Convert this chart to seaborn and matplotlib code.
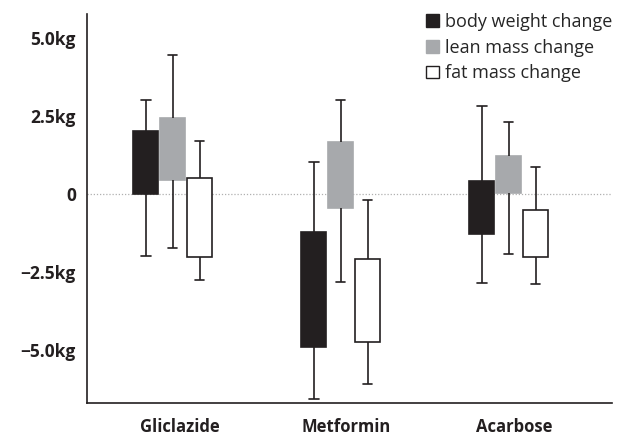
import pandas as pd
import seaborn as sns
import matplotlib.pyplot as plt
from matplotlib.patches import Patch

drugs = ["Gliclazide", "Metformin", "Acarbose"]
measures = ["body weight change", "lean mass change", "fat mass change"]

# min, lower box edge, upper box edge, max (kg)
body_low = [-1.98, -6.57, -2.84]
body_q1 = [0.0, -4.89, -1.29]
body_q3 = [2.01, -1.23, 0.42]
body_high = [3.02, 1.04, 2.81]

lean_low = [-1.72, -2.83, -1.93]
lean_q1 = [0.46, -0.44, 0.02]
lean_q3 = [2.44, 1.66, 1.22]
lean_high = [4.47, 3.03, 2.32]

fat_low = [-2.76, -6.08, -2.88]
fat_q1 = [-2.03, -4.74, -2.03]
fat_q3 = [0.52, -2.07, -0.50]
fat_high = [1.71, -0.18, 0.87]

yticks = [5.0, 2.5, 0, -2.5, -5.0]
ytick_labels = ["5.0kg", "2.5kg", "0", "\u22122.5kg", "\u22125.0kg"]

colors = ["#231f20", "#a7a9ac", "#ffffff"]
ink = "#231f20"

series = {
    measures[0]: (body_low, body_q1, body_q3, body_high),
    measures[1]: (lean_low, lean_q1, lean_q3, lean_high),
    measures[2]: (fat_low, fat_q1, fat_q3, fat_high),
}

# five points per box so quartiles land on the box edges, whiskers on min/max
rows = []
for m, (lo, q1, q3, hi) in series.items():
    for i, d in enumerate(drugs):
        for v in [lo[i], q1[i], q1[i], q3[i], hi[i]]:
            rows.append({"drug": d, "measure": m, "value": v})
df = pd.DataFrame(rows)

sns.set_style("white")
plt.rcParams["font.family"] = ["Open Sans", "DejaVu Sans"]

fig = plt.figure(figsize=(6.33, 4.41), dpi=100)
ax = fig.add_axes([0.1374, 0.0862, 0.8294, 0.8818])

sns.boxplot(data=df, x="drug", y="value", hue="measure", order=drugs,
            hue_order=measures, palette=colors, saturation=1,
            width=0.48, gap=0.07, whis=(0, 100), showfliers=False,
            linecolor=ink, linewidth=1.2, legend=False, ax=ax,
            medianprops={"visible": False})

# grey boxes carry no dark outline; caps are short
for p in ax.patches:
    if p.get_facecolor()[0] > 0.5 and p.get_facecolor()[0] < 0.9:
        p.set_edgecolor(colors[1])
for ln in ax.lines:
    x = ln.get_xdata()
    y = ln.get_ydata()
    if len(x) == 2 and y[0] == y[1] and x[0] != x[1]:
        c = (x[0] + x[1]) / 2
        h = (x[1] - x[0]) * 0.38
        ln.set_xdata([c - h, c + h])

ax.axhline(0, color="#b0b0b0", lw=0.9, ls=(0, (1, 1.5)), zorder=0)

ax.set_xlim(-0.51, 2.615)
ax.set_ylim(-6.7, 5.77)
ax.set_xticks([0.04, 1.035, 2.035])
ax.set_xticklabels(drugs, fontsize=12, fontweight="bold", color=ink)
ax.set_yticks(yticks)
ax.set_yticklabels(ytick_labels, fontsize=12.5, fontweight="bold", color=ink)
ax.tick_params(axis="y", length=0, pad=8)
ax.tick_params(axis="x", length=7, width=1.2, color=ink, pad=4, direction="out")
ax.set_xlabel("")
ax.set_ylabel("")

sns.despine(ax=ax)
for s in ["left", "bottom"]:
    ax.spines[s].set_color(ink)
    ax.spines[s].set_linewidth(1.2)

handles = [Patch(facecolor=c, edgecolor=ink if c != colors[1] else c, linewidth=1.0)
           for c in colors]
fig.legend(handles, measures, loc="upper right", bbox_to_anchor=(0.985, 0.995),
           frameon=False, fontsize=13, handlelength=0.7, handleheight=0.7,
           handletextpad=0.35, labelspacing=0.42, borderaxespad=0.2)

fig.savefig("out.png", dpi=100)
